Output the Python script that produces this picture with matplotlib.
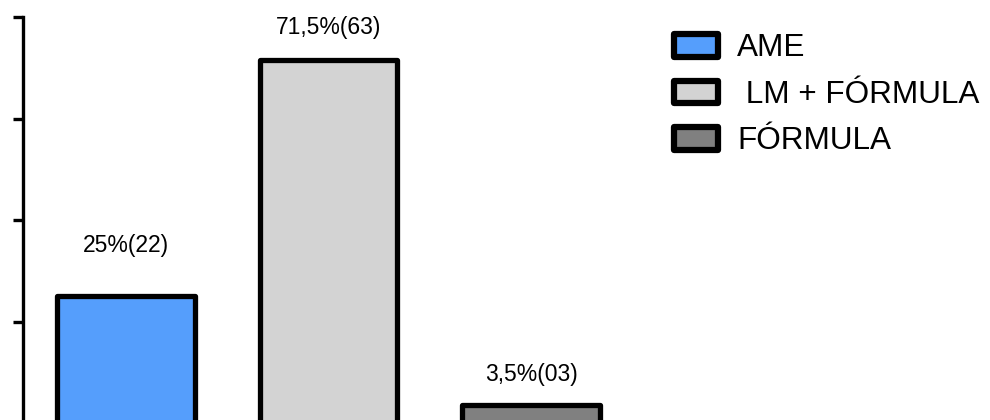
import matplotlib
matplotlib.use("Agg")
import matplotlib.pyplot as plt

plt.rcParams['font.family'] = ['Liberation Sans', 'DejaVu Sans']

# data
categories = ['AME', ' LM + FÓRMULA', 'FÓRMULA']
percents = [25.0, 71.5, 3.5]
labels = ['25%(22)', '71,5%(63)', '3,5%(03)']
colors = ['#559efc', '#d3d3d3', '#808080']
label_pad = [10.0, 6.5, 6.0]  # label offset above bar (in %)

fig = plt.figure(figsize=(9.9, 4.2), dpi=100)
ax = fig.add_axes([23 / 990, -3 / 420, 967 / 990, 406 / 420])

xs = list(range(len(categories)))
bars = ax.bar(xs, percents, width=0.68, color=colors, edgecolor='black',
              linewidth=3.8, label=categories)
for b in bars:
    b.set_joinstyle('round')

for x, v, lab, pad in zip(xs, percents, labels, label_pad):
    ax.text(x, v + pad, lab, ha='center', va='center', fontsize=16.5)

ax.set_xlim(-0.509, 4.267)
ax.set_ylim(0, 80)
ax.set_yticks([20, 40, 60, 80])
ax.set_yticklabels([])
ax.set_xticks([])
for s in ['top', 'right', 'bottom']:
    ax.spines[s].set_visible(False)
ax.spines['left'].set_linewidth(2.4)
ax.tick_params(axis='y', direction='out', length=7.5, width=2.4)

leg = ax.legend(handles=list(bars), labels=categories,
                loc='upper left', bbox_to_anchor=(674 / 990, 1 - 33.5 / 420),
                bbox_transform=fig.transFigure, frameon=False, fontsize=22.7,
                handlelength=1.4, handleheight=0.73, handletextpad=0.6,
                labelspacing=0.52, borderpad=0, borderaxespad=0)
for h in leg.legend_handles:
    h.set_linewidth(4.5)
    h.set_joinstyle('round')

fig.savefig('out.png', dpi=100)
